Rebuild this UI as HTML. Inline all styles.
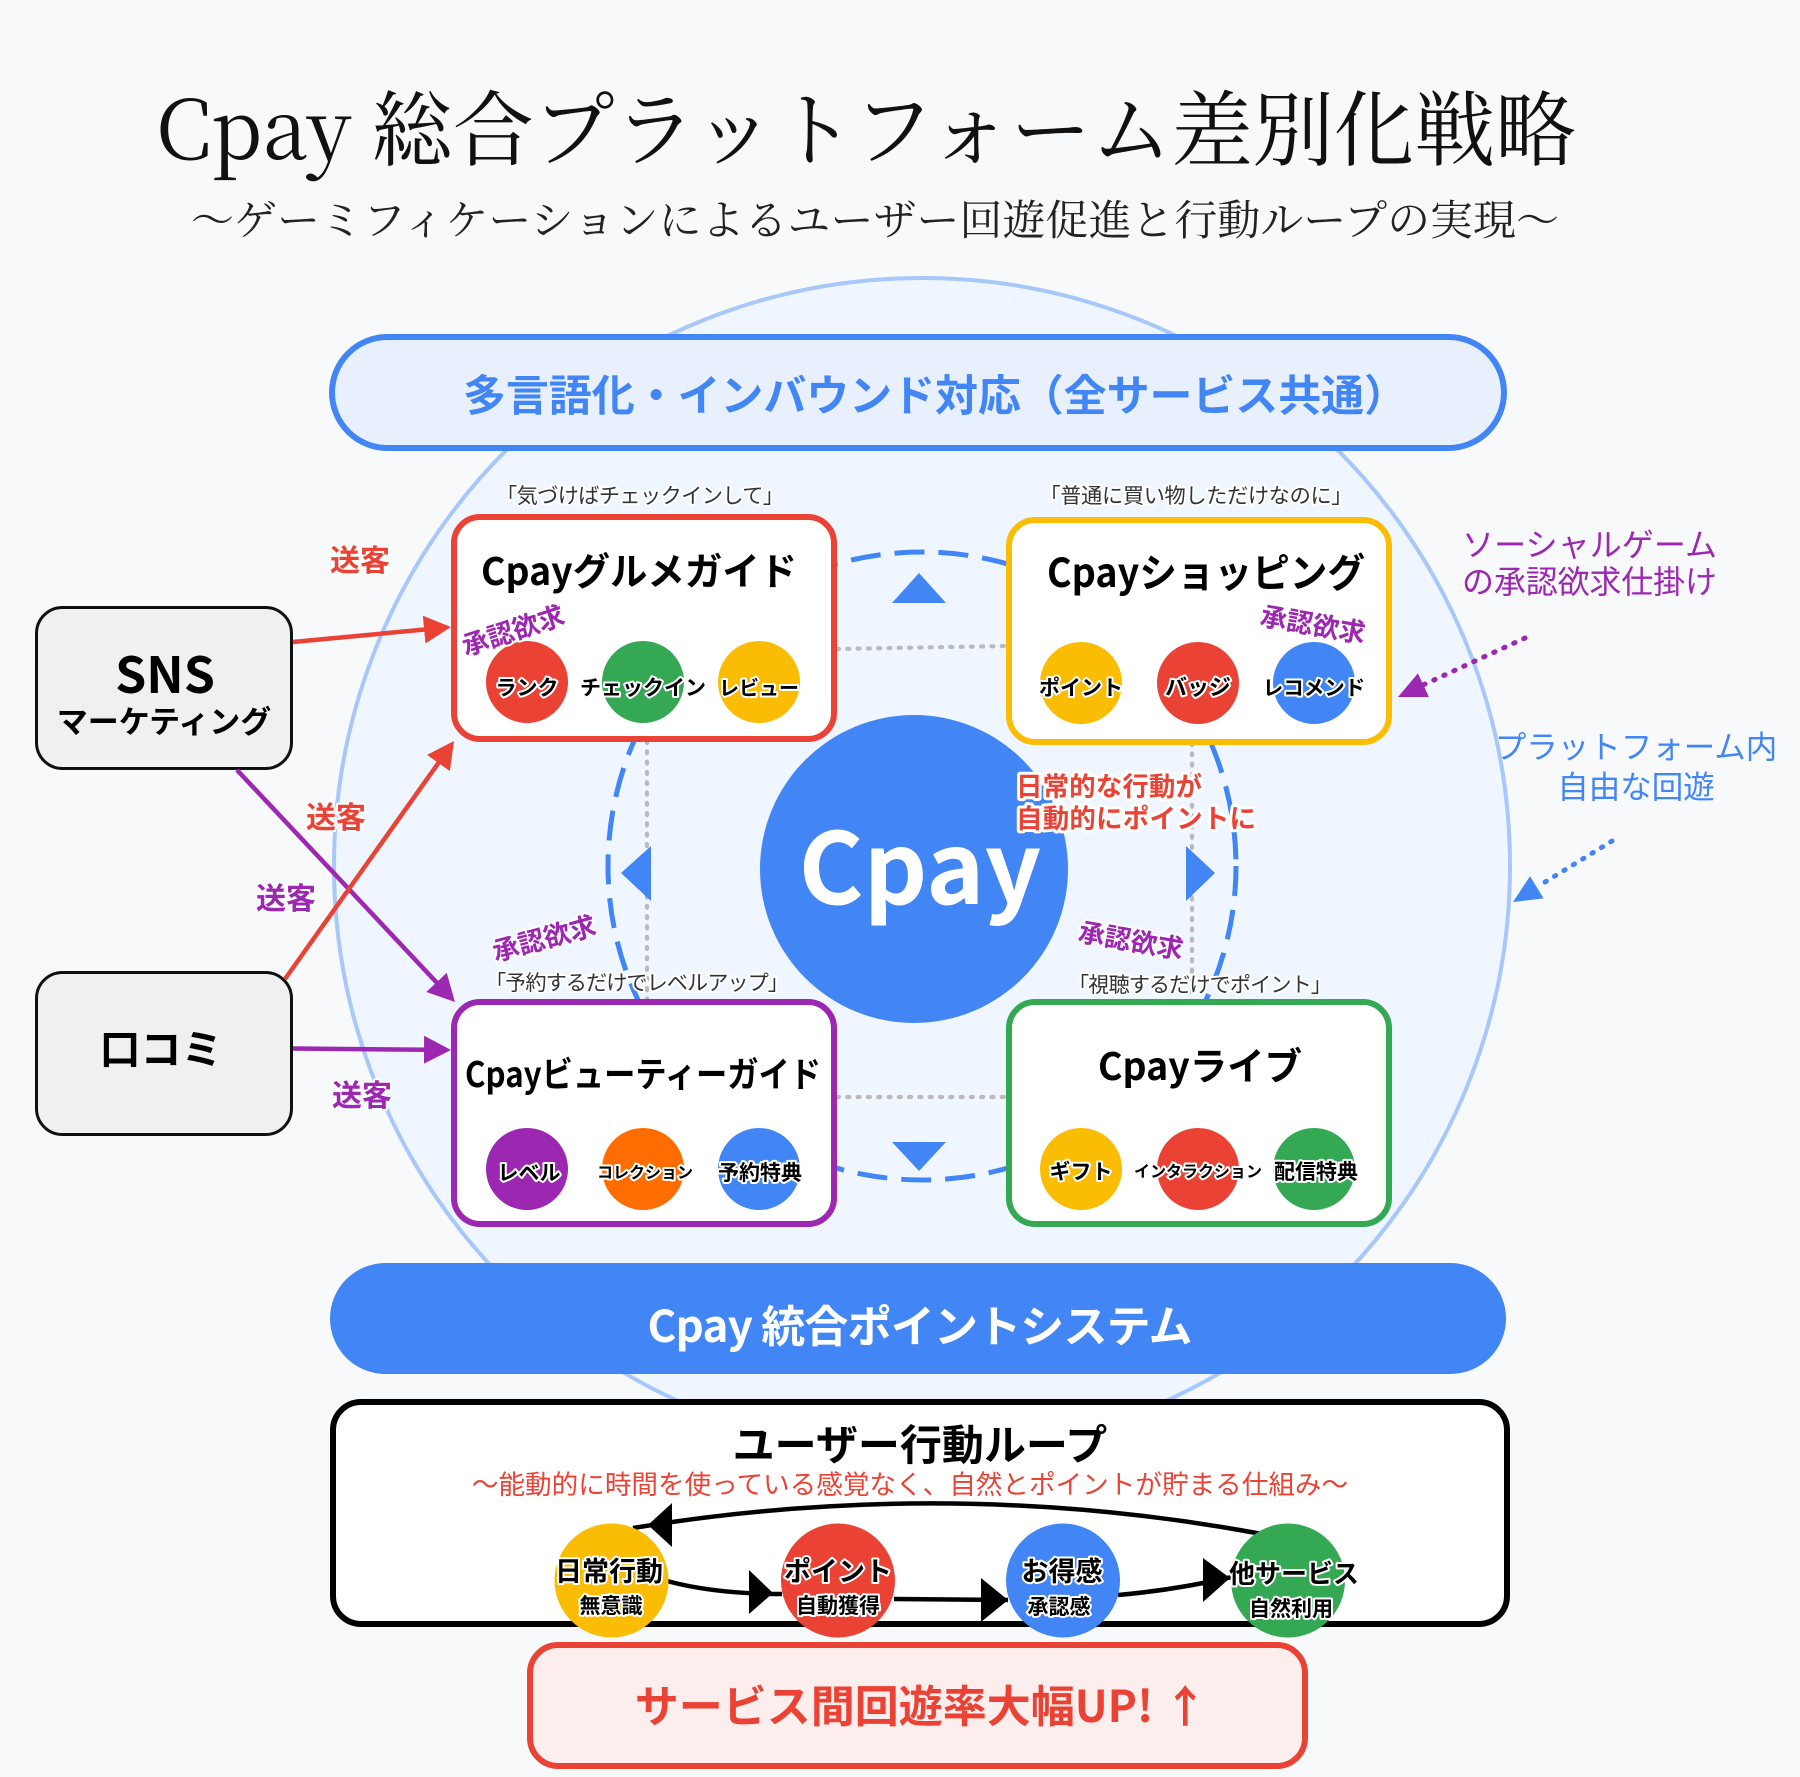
<!DOCTYPE html>
<html><head><meta charset="utf-8"><style>
html,body{margin:0;padding:0;background:#f7f9fb;}
svg{display:block;}
.s{font-family:"Noto Sans CJK JP","Liberation Sans",sans-serif;}
.b{font-weight:700;}
.h{paint-order:stroke;stroke:#fff;stroke-width:4px;stroke-linejoin:round;}
.h6{paint-order:stroke;stroke:#fff;stroke-width:6px;stroke-linejoin:round;}
</style></head><body>
<svg width="1800" height="1777" viewBox="0 0 1800 1777" xmlns="http://www.w3.org/2000/svg">
<defs>
<marker id="mr" markerUnits="userSpaceOnUse" markerWidth="28" markerHeight="28" refX="19" refY="14" orient="auto" viewBox="0 0 28 28"><path d="M0,0 L27,14 L0,28 z" fill="#ea4335"/></marker>
<marker id="mp" markerUnits="userSpaceOnUse" markerWidth="28" markerHeight="28" refX="19" refY="14" orient="auto" viewBox="0 0 28 28"><path d="M0,0 L27,14 L0,28 z" fill="#9c27b0"/></marker>
</defs>
<rect width="1800" height="1777" fill="#f7f9fb"/>

<!-- Title -->
<text x="156" y="159" font-family="'Noto Serif CJK JP','Noto Serif CJK SC','Liberation Serif',serif" font-size="82" textLength="1420" lengthAdjust="spacingAndGlyphs" fill="#111">Cpay 総合プラットフォーム差別化戦略</text>
<text x="191" y="235" font-family="'Noto Serif CJK JP','Noto Serif CJK SC','Liberation Serif',serif" font-size="42" textLength="1368" lengthAdjust="spacingAndGlyphs" fill="#222">〜ゲーミフィケーションによるユーザー回遊促進と行動ループの実現〜</text>

<!-- Big circle -->
<circle cx="922" cy="866" r="588" fill="#eff6ff" stroke="#a8c7fa" stroke-width="4"/>

<!-- Banner -->
<rect x="332" y="337" width="1172" height="111" rx="55.5" fill="#e8f0fe" stroke="#4285f4" stroke-width="6"/>
<text class="s b" x="463" y="411" font-size="43" textLength="944" fill="#4285f4">多言語化・インバウンド対応（全サービス共通）</text>

<!-- dashed circle -->
<circle cx="922" cy="866" r="314" fill="none" stroke="#4285f4" stroke-width="5" stroke-dasharray="30 14"/>
<!-- dotted gray rect -->
<g fill="none" stroke="#bdb9b9" stroke-width="4.2" stroke-dasharray="2 8.3" stroke-linecap="round">
<line x1="837" y1="649" x2="1006" y2="646"/>
<line x1="837" y1="1097" x2="1006" y2="1097"/>
<line x1="647" y1="741" x2="647" y2="1000"/>
<line x1="1192" y1="743" x2="1192" y2="1000"/>
</g>

<!-- triangles -->
<polygon points="919,573 892,603 946,603" fill="#4285f4"/>
<polygon points="919,1171 892,1142 946,1142" fill="#4285f4"/>
<polygon points="621,873 651,846 651,901" fill="#4285f4"/>
<polygon points="1215,873 1186,846 1186,901" fill="#4285f4"/>

<!-- Cpay circle -->
<circle cx="914" cy="869" r="154" fill="#4285f4"/>
<text class="s b" x="920" y="904" font-size="99" text-anchor="middle" fill="#fff">Cpay</text>

<!-- red center text -->
<text class="s b h6" x="1016" y="796" font-size="26.5" textLength="186" fill="#ea4335">日常的な行動が</text>
<text class="s b h6" x="1016" y="828" font-size="26.5" textLength="240" fill="#ea4335">自動的にポイントに</text>

<!-- Cards -->
<rect x="454" y="517" width="380" height="222" rx="26" fill="#fff" stroke="#ea4335" stroke-width="6"/>
<rect x="1009" y="520" width="380" height="222" rx="26" fill="#fff" stroke="#fbbc04" stroke-width="6"/>
<rect x="454" y="1002" width="380" height="222" rx="26" fill="#fff" stroke="#9c27b0" stroke-width="6"/>
<rect x="1009" y="1002" width="380" height="222" rx="26" fill="#fff" stroke="#34a853" stroke-width="6"/>

<!-- card titles -->
<text class="s b" x="639" y="585" font-size="38" text-anchor="middle" textLength="316" lengthAdjust="spacingAndGlyphs" fill="#000">Cpayグルメガイド</text>
<text class="s b" x="1206" y="587" font-size="40" text-anchor="middle" textLength="318" lengthAdjust="spacingAndGlyphs" fill="#000">Cpayショッピング</text>
<text class="s b" x="643" y="1087" font-size="35" text-anchor="middle" textLength="356" lengthAdjust="spacingAndGlyphs" fill="#000">Cpayビューティーガイド</text>
<text class="s b" x="1200" y="1080" font-size="38" text-anchor="middle" textLength="204" lengthAdjust="spacingAndGlyphs" fill="#000">Cpayライブ</text>

<!-- card circles -->
<circle cx="527" cy="682" r="41" fill="#ea4335"/>
<circle cx="643" cy="682" r="41" fill="#34a853"/>
<circle cx="759" cy="682" r="41" fill="#fbbc04"/>
<circle cx="1081" cy="683" r="41" fill="#fbbc04"/>
<circle cx="1198" cy="683" r="41" fill="#ea4335"/>
<circle cx="1314" cy="683" r="41" fill="#4285f4"/>
<circle cx="527" cy="1169" r="41" fill="#9c27b0"/>
<circle cx="643" cy="1169" r="41" fill="#ff6d00"/>
<circle cx="759" cy="1169" r="41" fill="#4285f4"/>
<circle cx="1081" cy="1169" r="41" fill="#fbbc04"/>
<circle cx="1198" cy="1169" r="41" fill="#ea4335"/>
<circle cx="1314" cy="1169" r="41" fill="#34a853"/>

<g class="s b h" fill="#000" text-anchor="middle">
<text x="527" y="695" font-size="21">ランク</text>
<text x="643" y="695" font-size="21">チェックイン</text>
<text x="759" y="695" font-size="20">レビュー</text>
<text x="1081" y="695" font-size="21">ポイント</text>
<text x="1198" y="695" font-size="22">バッジ</text>
<text x="1314" y="695" font-size="20.5">レコメンド</text>
<text x="529" y="1180" font-size="21">レベル</text>
<text x="645" y="1178" font-size="16">コレクション</text>
<text x="760" y="1180" font-size="21">予約特典</text>
<text x="1081" y="1179" font-size="21">ギフト</text>
<text x="1198" y="1177" font-size="16">インタラクション</text>
<text x="1316" y="1179" font-size="21">配信特典</text>
</g>

<!-- quotes -->
<g class="s h" fill="#333" text-anchor="middle" font-size="21.2">
<text x="640" y="503" textLength="288">「気づけばチェックインして」</text>
<text x="1196" y="503" textLength="313">「普通に買い物しただけなのに」</text>
<text x="637" y="990" textLength="304">「予約するだけでレベルアップ」</text>
<text x="1200" y="992" textLength="264">「視聴するだけでポイント」</text>
</g>

<!-- 承認欲求 -->
<g class="s b h" fill="#9c27b0" text-anchor="middle" font-size="26.5">
<text transform="translate(513,630) rotate(-18)" y="10">承認欲求</text>
<text transform="translate(1313,624) rotate(10)" y="10">承認欲求</text>
<text transform="translate(544,938) rotate(-15)" y="10">承認欲求</text>
<text transform="translate(1131,940) rotate(10)" y="10">承認欲求</text>
</g>

<!-- left boxes -->
<rect x="36.5" y="607.5" width="255" height="161" rx="26" fill="#f0f0f0" stroke="#111" stroke-width="3"/>
<rect x="36.5" y="972.5" width="255" height="162" rx="26" fill="#f0f0f0" stroke="#111" stroke-width="3"/>
<text class="s b" x="165" y="693" font-size="50" text-anchor="middle" fill="#000">SNS</text>
<text class="s b" x="164" y="733" font-size="31" text-anchor="middle" fill="#000">マーケティング</text>
<text class="s b" x="161" y="1064" font-size="41" text-anchor="middle" fill="#000">口コミ</text>

<!-- left arrows -->
<line x1="237" y1="770" x2="449.5" y2="996.2" stroke="#9c27b0" stroke-width="4.5" marker-end="url(#mp)"/>
<line x1="293" y1="1048.5" x2="443" y2="1049.9" stroke="#9c27b0" stroke-width="4.5" marker-end="url(#mp)"/>
<line x1="293" y1="642" x2="443" y2="627.8" stroke="#ea4335" stroke-width="4.5" marker-end="url(#mr)"/>
<line x1="285" y1="979" x2="449.4" y2="747.5" stroke="#ea4335" stroke-width="4.5" marker-end="url(#mr)"/>

<g class="s b h" font-size="30" text-anchor="middle">
<text x="360" y="571" fill="#ea4335">送客</text>
<text x="336" y="828" fill="#ea4335">送客</text>
<text x="286" y="909" fill="#9c27b0">送客</text>
<text x="362" y="1106" fill="#9c27b0">送客</text>
</g>

<!-- right annotations -->
<text class="s" x="1462" y="556" font-size="32" textLength="255" fill="#9c27b0">ソーシャルゲーム</text>
<text class="s" x="1462" y="593" font-size="32" textLength="255" fill="#9c27b0">の承認欲求仕掛け</text>
<line x1="1525" y1="638" x2="1423" y2="685" stroke="#9c27b0" stroke-width="5" stroke-dasharray="1.5 9.5" stroke-linecap="round"/>
<polygon points="1398,697 1428.9,697 1417.9,673.4" fill="#9c27b0"/>

<text class="s" x="1636" y="758" font-size="31.5" text-anchor="middle" fill="#4285f4">プラットフォーム内</text>
<text class="s" x="1636" y="798" font-size="31.5" text-anchor="middle" fill="#4285f4">自由な回遊</text>
<line x1="1612" y1="841" x2="1537" y2="887" stroke="#4285f4" stroke-width="5" stroke-dasharray="1.5 9.5" stroke-linecap="round"/>
<polygon points="1513,902 1543.6,898.4 1530,876.2" fill="#4285f4"/>

<!-- Cpay point bar -->
<rect x="330" y="1263" width="1176" height="111" rx="55.5" fill="#4285f4"/>
<text class="s b" x="920" y="1342" font-size="44" text-anchor="middle" textLength="545" fill="#fff">Cpay 統合ポイントシステム</text>

<!-- Loop box -->
<rect x="333" y="1402" width="1174" height="222" rx="28" fill="#fff" stroke="#000" stroke-width="6"/>
<text class="s b" x="920" y="1460" font-size="42" text-anchor="middle" fill="#000">ユーザー行動ループ</text>
<text class="s" x="910" y="1494" font-size="26.6" text-anchor="middle" fill="#ea4335">〜能動的に時間を使っている感覚なく、自然とポイントが貯まる仕組み〜</text>

<g fill="none" stroke="#000" stroke-width="4.5">
<path d="M1262 1534 Q950 1476 633 1528"/>
<path d="M667 1581 Q715 1594 782 1594"/>
<path d="M894 1599 L1008 1600"/>
<path d="M1118 1595 Q1175 1590 1232 1577"/>
</g>
<polygon points="648,1525 672,1503 672,1547" fill="#000"/>
<polygon points="773,1593 749,1570 749,1614" fill="#000"/>
<polygon points="1008,1600 981,1578 981,1622" fill="#000"/>
<polygon points="1230,1578 1203,1558 1203,1602" fill="#000"/>

<circle cx="611.5" cy="1580.5" r="57" fill="#fbbc04"/>
<circle cx="838" cy="1580.5" r="57" fill="#ea4335"/>
<circle cx="1063" cy="1580.5" r="57" fill="#4285f4"/>
<circle cx="1288" cy="1580.5" r="57" fill="#34a853"/>

<g class="s b h" fill="#000" text-anchor="middle">
<text x="609" y="1581" font-size="27">日常行動</text>
<text x="611" y="1613" font-size="21">無意識</text>
<text x="838" y="1581" font-size="27">ポイント</text>
<text x="838" y="1613" font-size="21">自動獲得</text>
<text x="1062" y="1581" font-size="27">お得感</text>
<text x="1059" y="1614" font-size="21">承認感</text>
<text x="1294" y="1583" font-size="26">他サービス</text>
<text x="1291" y="1616" font-size="21">自然利用</text>
</g>

<!-- bottom result box -->
<rect x="530" y="1645" width="775" height="121" rx="28" fill="#fdeeee" stroke="#ea4335" stroke-width="6"/>
<text class="s b" x="921" y="1722" font-size="44" text-anchor="middle" fill="#ea4335">サービス間回遊率大幅UP! ↑</text>
</svg>
</body></html>
